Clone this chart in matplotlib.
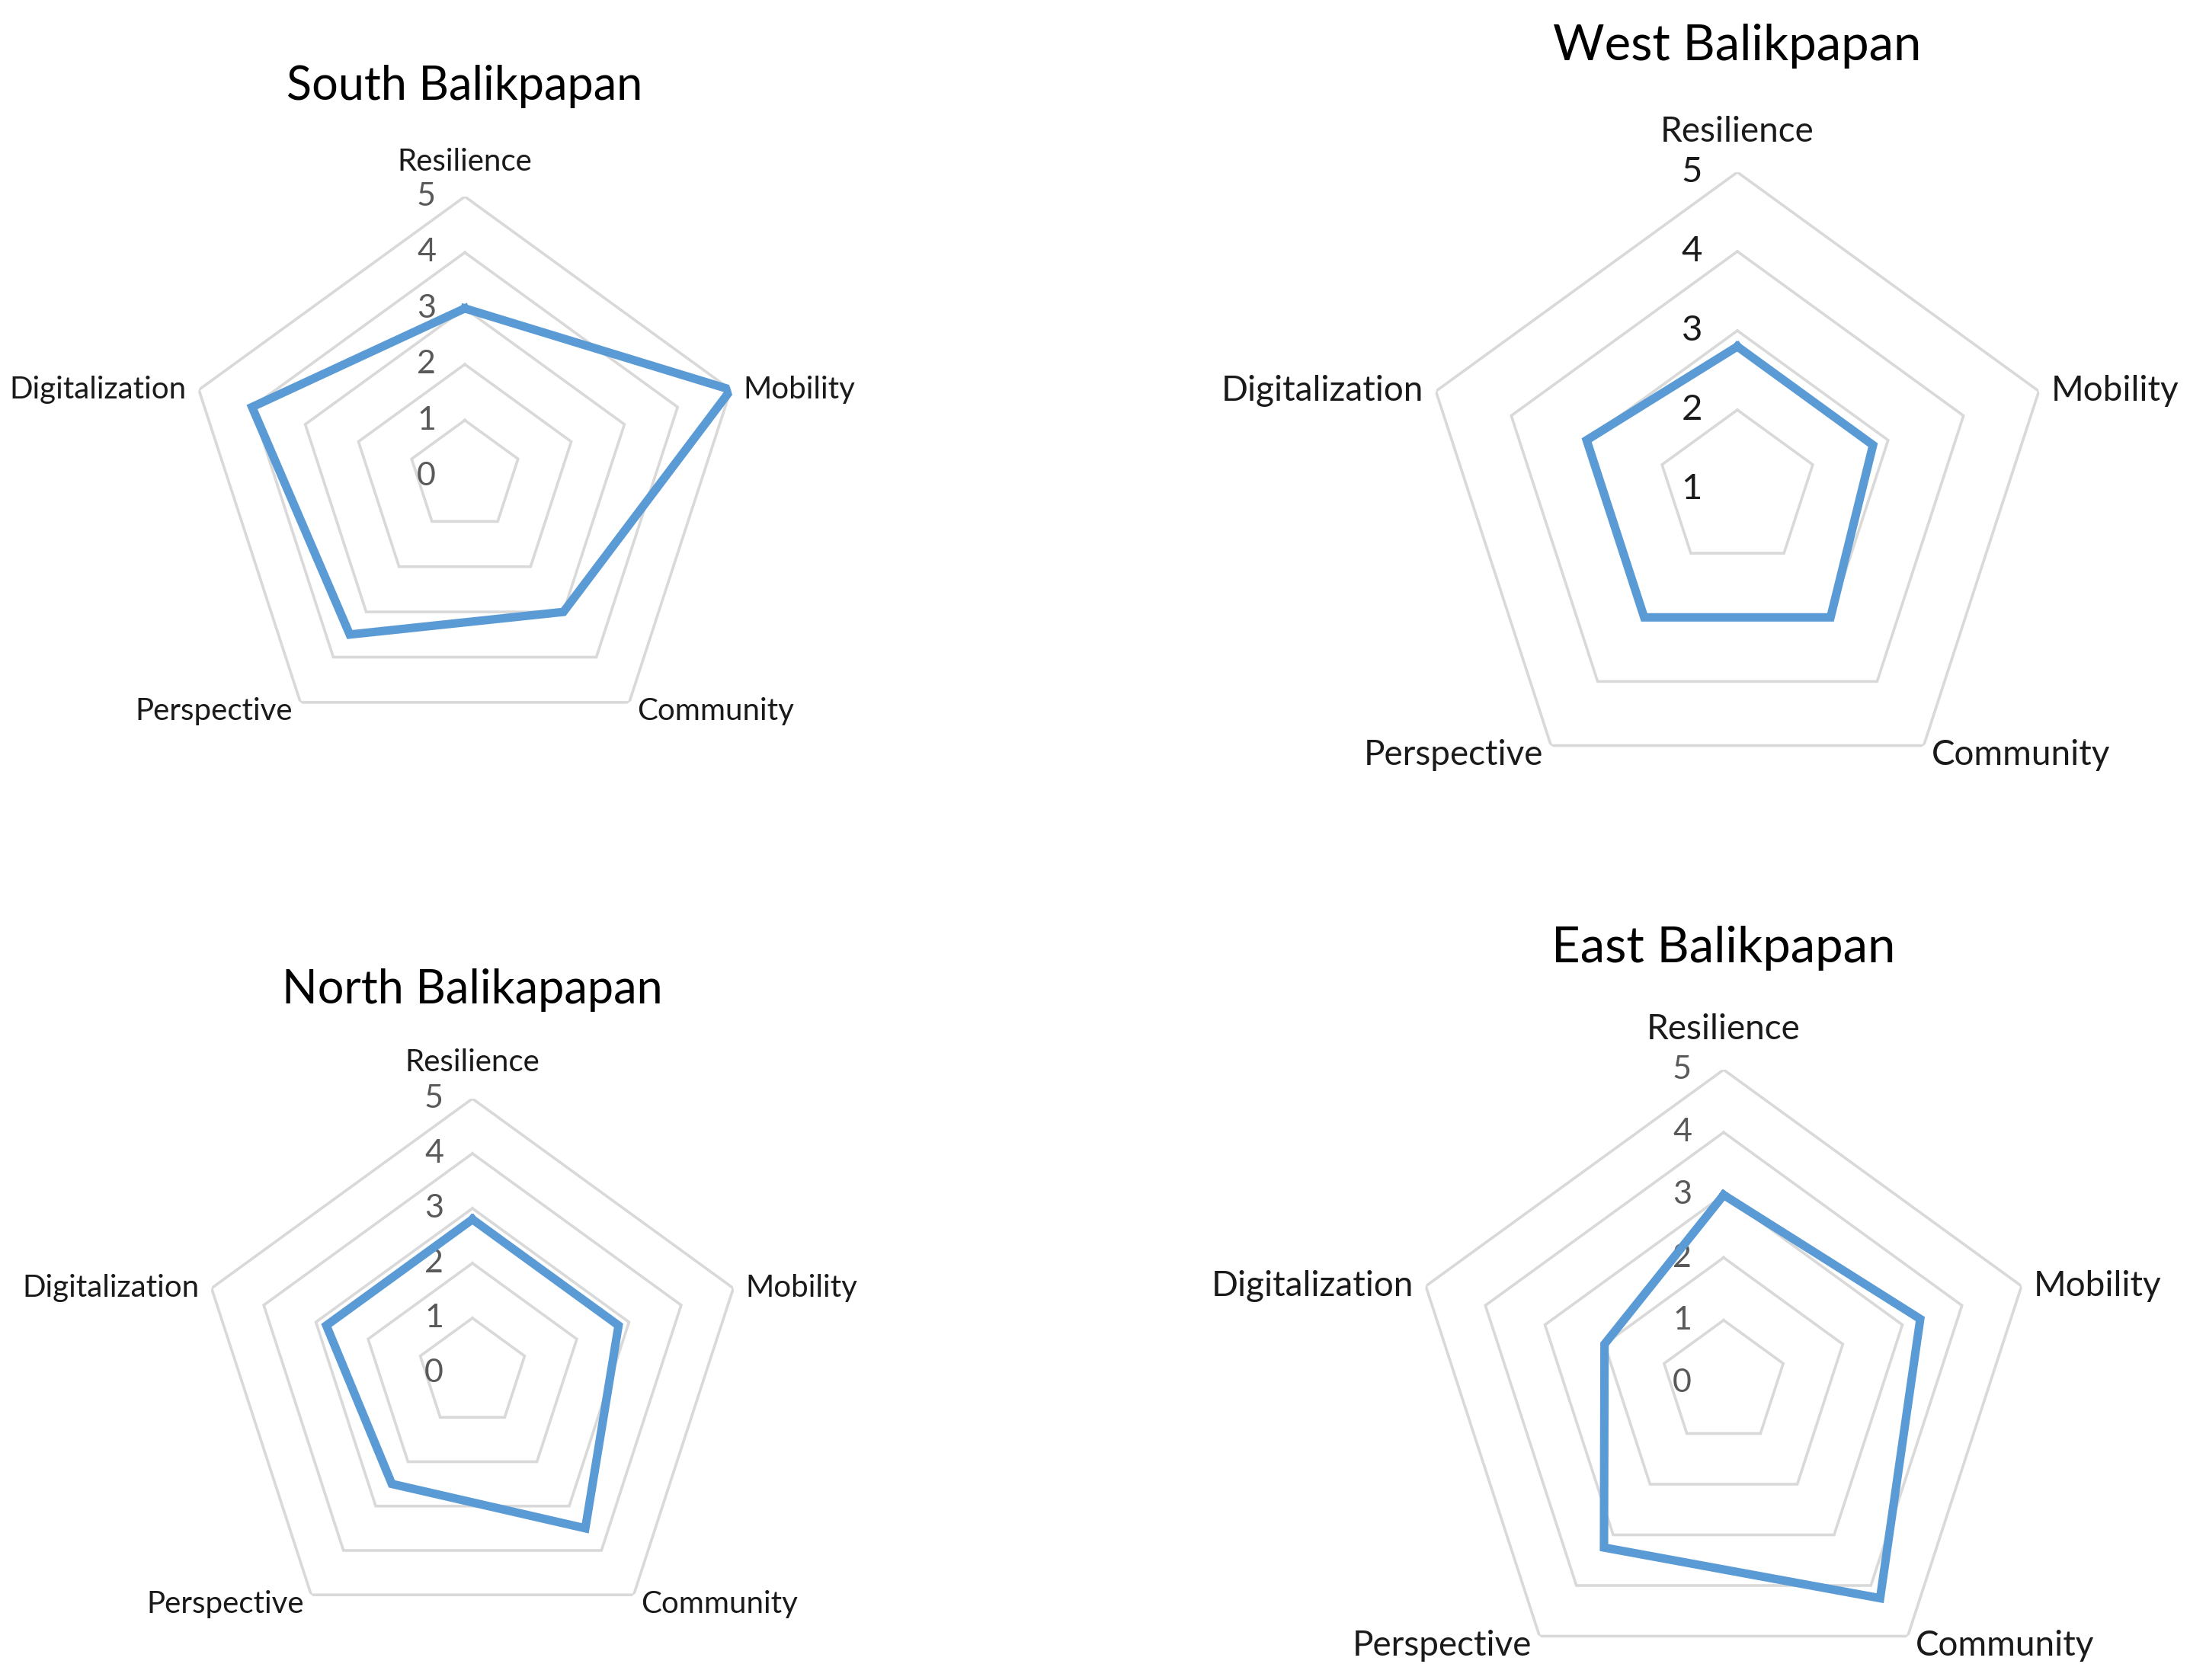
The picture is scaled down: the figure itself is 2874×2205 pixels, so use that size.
import numpy as np
import matplotlib
matplotlib.use("Agg")
import matplotlib.pyplot as plt

plt.rcParams['font.family'] = ['Lato', 'DejaVu Sans']

categories = ["Resilience", "Mobility", "Community", "Perspective", "Digitalization"]

south = [3.0, 5.0, 3.0, 3.5, 4.0]
west = [2.8, 2.8, 3.0, 3.0, 3.0]
north = [2.8, 2.8, 3.5, 2.5, 2.8]
east = [3.0, 3.3, 4.25, 3.25, 2.0]

titles = ["South Balikpapan", "West Balikpapan", "North Balikapapan", "East Balikpapan"]
values = [south, west, north, east]
rmins = [0, 1, 0, 0]
rmax = 5

W, H = 2874, 2205
DPI = 100
PX = 72 / DPI  # pixel -> points

# panel layout in pixels: centre x, centre y, radius, title y, sizes
panels = [
    dict(cx=610, cy=625, R=367, ty=114, tfs=44, lfs=29, kfs=31, kcol='#595959', top=46, kx=38),
    dict(cx=2280, cy=642, R=416, ty=60, tfs=47, lfs=33, kfs=34, kcol='#1a1a1a', top=53, kx=46),
    dict(cx=620, cy=1802, R=360, ty=1300, tfs=44, lfs=29, kfs=31, kcol='#595959', top=48, kx=38),
    dict(cx=2262, cy=1815, R=411, ty=1245, tfs=47, lfs=33, kfs=31, kcol='#595959', top=53, kx=42),
]

blue = '#5B9BD5'
grey = '#D9D9D9'

fig = plt.figure(figsize=(W / DPI, H / DPI), dpi=DPI)

n = len(categories)
angles = np.linspace(0, 2 * np.pi, n, endpoint=False)
ang_c = np.append(angles, angles[0])

for p, title, vals, rmin in zip(panels, titles, values, rmins):
    cx, cy, R = p['cx'], p['cy'], p['R']
    ax = fig.add_axes([(cx - R) / W, 1 - (cy + R) / H, 2 * R / W, 2 * R / H],
                      projection='polar')
    ax.set_theta_offset(np.pi / 2)
    ax.set_theta_direction(-1)
    ax.set_ylim(rmin, rmax)
    ax.set_axis_off()

    # pentagon gridlines
    for r in range(rmin + 1, rmax + 1):
        ax.plot(ang_c, [r] * (n + 1), color=grey, lw=2.6, zorder=1,
                solid_joinstyle='miter')

    # data series
    v = np.append(vals, vals[0])
    ax.plot(ang_c, v, color=blue, lw=8, zorder=3, solid_joinstyle='miter')

    # radial tick labels
    for r in range(rmin, rmax + 1):
        ax.annotate(str(r), xy=(0, r), xytext=(-p['kx'] * PX, 0),
                    textcoords='offset points', ha='right', va='center',
                    fontsize=p['kfs'], color=p['kcol'], zorder=2)

    # category labels
    offs = [
        ((0, p['top'] * PX), 'center', 'center'),
        ((16 * PX, 0), 'left', 'center'),
        ((10 * PX, -12 * PX), 'left', 'center'),
        ((-10 * PX, -12 * PX), 'right', 'center'),
        ((-16 * PX, 0), 'right', 'center'),
    ]
    for a, lab, (off, ha, va) in zip(angles, categories, offs):
        ax.annotate(lab, xy=(a, rmax), xytext=off, textcoords='offset points',
                    ha=ha, va=va, fontsize=p['lfs'], color='#1a1a1a')

    fig.text(cx / W, 1 - p['ty'] / H, title, ha='center', va='center',
             fontsize=p['tfs'], color='#000000')

fig.savefig("out.png", dpi=DPI, facecolor='white')
